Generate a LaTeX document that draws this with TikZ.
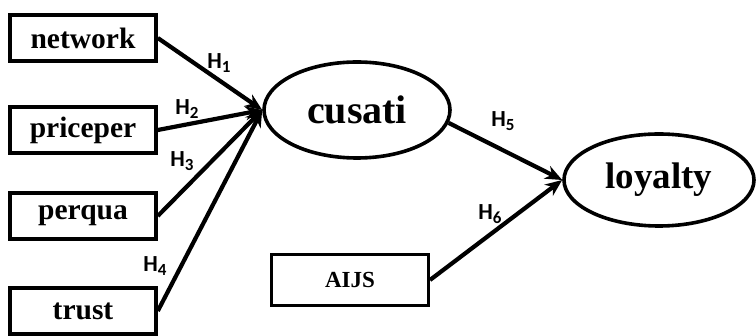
\documentclass[tikz,border=0pt]{standalone}
\usepackage{fontspec}
\setmainfont{Liberation Serif}
\newfontfamily\hfont{Carlito}
\usetikzlibrary{arrows.meta,shapes.geometric}
\newcommand{\arw}{-{Stealth[length=17pt,width=14pt]}}
\newcommand{\hyp}[1]{{\hfont\bfseries H\raisebox{-3.5pt}{\fontsize{17}{17}\selectfont #1}}}
\tikzset{
  obs/.style={draw,line width=3.6pt,minimum width=146pt,minimum height=46pt,
    font=\fontsize{29.5}{30}\selectfont\bfseries},
  lat/.style={draw,ellipse,line width=3.6pt,inner sep=0pt},
  path/.style={line width=4.2pt,\arw},
  hlab/.style={font=\fontsize{23}{24}\selectfont,inner sep=0pt}
}

\begin{document}
\begin{tikzpicture}[x=1pt,y=-1pt]
\useasboundingbox (0,0) rectangle (756,336);
%observed constructs
\node[obs] (network)  at (83,38)  {network};
\node[obs] (priceper) at (83,130) {priceper};
\node[obs] (perqua)   at (83,216) {perqua};
\node[obs] (trust)    at (83,311) {trust};
\node[obs,line width=3pt,minimum width=157pt,minimum height=51pt,
  font=\fontsize{23}{24}\selectfont\bfseries] (aijs) at (350,280) {AIJS};
%latent constructs
\node[lat,minimum width=186pt,minimum height=96pt,
  font=\fontsize{40}{40}\selectfont\bfseries] (cusati) at (357,110) {cusati};
\node[lat,minimum width=190pt,minimum height=92pt,
  font=\fontsize{37}{37}\selectfont\bfseries] (loyalty) at (659,180) {loyalty};
%paths
\draw[path] (network.east) -- (cusati.west);
\draw[path] (priceper.east) -- (cusati.west);
\draw[path] (perqua.east) -- (cusati.west);
\draw[path] (trust.east) -- (cusati.west);
\draw[path] (cusati.-8) -- (loyalty.west);
\draw[path] (aijs.east) -- (loyalty.west);
%hypotheses
\node[hlab] (h1) at (219,63)  {\hyp{1}};
\node[hlab] (h2) at (187,109) {\hyp{2}};
\node[hlab] (h3) at (182,161) {\hyp{3}};
\node[hlab] (h4) at (155,266) {\hyp{4}};
\node[hlab] (h5) at (503,121) {\hyp{5}};
\node[hlab] (h6) at (490,214) {\hyp{6}};
\end{tikzpicture}
\end{document}
